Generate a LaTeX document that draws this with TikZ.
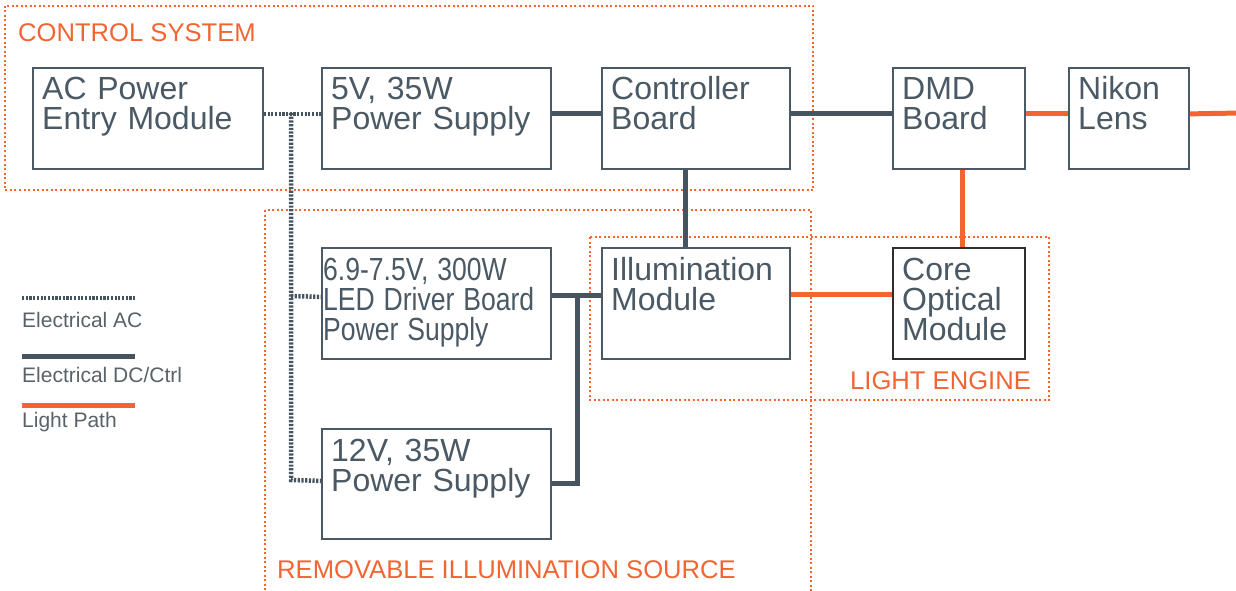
\documentclass[tikz,border=0pt]{standalone}
\usepackage{graphicx}
\usepackage{fontspec}
\setmainfont{Liberation Sans}
\definecolor{ink}{HTML}{4A5964}
\definecolor{wire}{HTML}{46545F}
\definecolor{orng}{HTML}{F26532}
\definecolor{legtxt}{HTML}{5A6269}
\definecolor{coreink}{HTML}{2E2E2E}
\begin{document}
\begin{tikzpicture}[x=1pt,y=-1pt,
 box/.style={draw=ink, line width=1.8pt, inner sep=0pt, anchor=north west},
 lbl/.style={anchor=base west, inner sep=0pt, text width=240pt, align=left, text=ink, font=\fontsize{32}{30}\selectfont},
 acline/.style={draw=wire, line width=4.5pt, dash pattern=on 2.2pt off 1.5pt},
 dcline/.style={draw=wire, line width=5pt},
 lightline/.style={draw=orng, line width=5pt},
 region/.style={draw=orng, line width=2pt, dash pattern=on 2pt off 2.5pt},
 head/.style={anchor=base west, inner sep=0pt, text=orng, font=\fontsize{25.6}{25}\selectfont},
 leg/.style={anchor=base west, inner sep=0pt, text=legtxt, font=\fontsize{21}{20}\selectfont}]
\useasboundingbox (0,0) rectangle (1236,591);

% regions
\draw[region] (5,6) rectangle (813,190);
\draw[region] (265,210) rectangle (811,600);
\draw[region] (590,237) rectangle (1049,400);
\node[head] (hcs) at (18,42) {CONTROL SYSTEM};
\node[head] (hris) at (277,578) {REMOVABLE ILLUMINATION SOURCE};
\node[head] (hle) at (850,389) {LIGHT ENGINE};

% boxes
\node[box, minimum width=230pt, minimum height=101pt] (ac) at (32,67) {};
\node[box, minimum width=229pt, minimum height=101pt] (ps5) at (321,67) {};
\node[box, minimum width=188pt, minimum height=101pt] (ctrl) at (601,67) {};
\node[box, minimum width=132pt, minimum height=101pt] (dmd) at (892,67) {};
\node[box, minimum width=120pt, minimum height=101pt] (lens) at (1068,67) {};
\node[box, minimum width=229pt, minimum height=111pt] (led) at (321,247) {};
\node[box, minimum width=188pt, minimum height=111pt] (illum) at (601,247) {};
\node[box, draw=coreink, minimum width=132pt, minimum height=111pt] (core) at (892,247) {};
\node[box, minimum width=229pt, minimum height=110pt] (ps12) at (321,428) {};

\node[lbl] (acT) at ([shift={(10,32.5)}]ac.north west) {AC Power\\Entry Module};
\node[lbl] (ps5T) at ([shift={(10,32.5)}]ps5.north west) {5V, 35W\\Power Supply};
\node[lbl] (ctrlT) at ([shift={(10,32.5)}]ctrl.north west) {Controller\\Board};
\node[lbl] (dmdT) at ([shift={(10,32.5)}]dmd.north west) {DMD\\Board};
\node[lbl] (lensT) at ([shift={(10,32.5)}]lens.north west) {Nikon\\Lens};
\node[lbl] (ledT) at ([shift={(2,33)}]led.north west) {\scalebox{0.83}[1]{6.9-7.5V, 300W}\\\scalebox{0.83}[1]{LED Driver Board}\\\scalebox{0.83}[1]{Power Supply}};
\node[lbl] (illumT) at ([shift={(10,33)}]illum.north west) {Illumination\\Module};
\node[lbl] (coreT) at ([shift={(10,33)}]core.north west) {Core\\Optical\\Module};
\node[lbl] (ps12T) at ([shift={(10,33)}]ps12.north west) {12V, 35W\\Power Supply};

% AC wiring
\coordinate (acTop) at (291,113);
\coordinate (acMid) at (291,296);
\coordinate (acBot) at (291,480);
\draw[acline] ([yshift=4.5pt]ac.east) -- ([yshift=4.5pt]ps5.west);
\draw[acline] (acTop) -- (acBot) -- ([yshift=3pt]ps12.west);
\draw[acline] (acMid) -- ([yshift=6.5pt]led.west);

% DC wiring
\draw[dcline] ([yshift=4.5pt]ps5.east) -- ([yshift=4.5pt]ctrl.west);
\draw[dcline] ([yshift=4.5pt]ctrl.east) -- ([yshift=4.5pt]dmd.west);
\draw[dcline] ([xshift=-10pt]ctrl.south) -- ([xshift=-10pt]illum.north);
\coordinate (dcJ) at (577,295);
\draw[dcline] ([yshift=7.5pt]led.east) -- ([yshift=7.5pt]illum.west);
\draw[dcline] (dcJ) |- ([yshift=0.5pt]ps12.east);

% light path
\coordinate (out) at (1240,113);
\draw[lightline] ([yshift=4.5pt]dmd.east) -- ([yshift=4.5pt]lens.west);
\draw[lightline] ([yshift=4.5pt]lens.east) -- (out);
\draw[lightline] ([xshift=4pt]dmd.south) -- ([xshift=4pt]core.north);
\draw[lightline] ([yshift=8.5pt]illum.east) -- ([yshift=8.5pt]core.west);

% legend
\coordinate (lacA) at (22,298); \coordinate (lacB) at (135,298);
\coordinate (ldcA) at (22,356); \coordinate (ldcB) at (135,356);
\coordinate (llpA) at (22,405); \coordinate (llpB) at (135,405);
\draw[acline, line width=3.5pt] (lacA) -- (lacB);
\draw[dcline] (ldcA) -- (ldcB);
\draw[lightline] (llpA) -- (llpB);
\node[leg] (legac) at (22,327) {Electrical AC};
\node[leg] (legdc) at (22,382) {Electrical DC/Ctrl};
\node[leg] (leglp) at (22,427) {Light Path};
\end{tikzpicture}
\end{document}
